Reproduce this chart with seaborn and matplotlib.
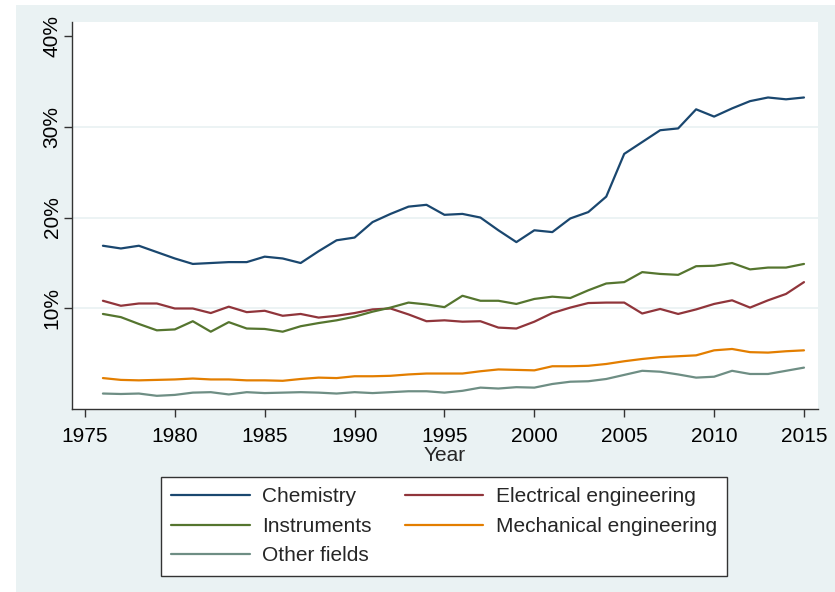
import numpy as np
import pandas as pd
import matplotlib
matplotlib.use("Agg")
import matplotlib.pyplot as plt
import seaborn as sns
from matplotlib.patches import Rectangle
from matplotlib.ticker import FuncFormatter

years = list(range(1976, 2016))

chemistry = [16.9, 16.6, 16.9, 16.2, 15.5, 14.9, 15.0, 15.1, 15.1, 15.7,
             15.5, 15.0, 16.3, 17.5, 17.8, 19.5, 20.4, 21.2, 21.4, 20.3,
             20.4, 20.0, 18.6, 17.3, 18.6, 18.4, 19.9, 20.6, 22.3, 27.0,
             28.3, 29.6, 29.8, 31.9, 31.1, 32.0, 32.8, 33.2, 33.0, 33.2]
electrical = [10.85, 10.3, 10.55, 10.55, 10.0, 10.0, 9.5, 10.2, 9.6, 9.75,
              9.2, 9.4, 9.0, 9.2, 9.5, 9.9, 10.0, 9.35, 8.6, 8.7,
              8.55, 8.6, 7.9, 7.8, 8.55, 9.5, 10.1, 10.6, 10.65, 10.65,
              9.45, 9.95, 9.4, 9.9, 10.5, 10.9, 10.1, 10.9, 11.6, 12.9]
instruments = [9.4, 9.05, 8.3, 7.6, 7.7, 8.6, 7.45, 8.5, 7.8, 7.75,
               7.45, 8.05, 8.4, 8.7, 9.1, 9.65, 10.1, 10.65, 10.45, 10.15,
               11.4, 10.85, 10.85, 10.5, 11.05, 11.3, 11.15, 12.0, 12.75, 12.9,
               14.0, 13.8, 13.7, 14.65, 14.7, 15.0, 14.3, 14.5, 14.5, 14.9]
mechanical = [2.35, 2.15, 2.1, 2.15, 2.2, 2.3, 2.2, 2.2, 2.1, 2.1,
              2.05, 2.25, 2.4, 2.35, 2.55, 2.55, 2.6, 2.75, 2.85, 2.85,
              2.85, 3.1, 3.3, 3.25, 3.2, 3.65, 3.65, 3.7, 3.9, 4.2,
              4.45, 4.65, 4.75, 4.85, 5.4, 5.55, 5.2, 5.15, 5.3, 5.4]
other = [0.65, 0.6, 0.65, 0.4, 0.5, 0.75, 0.8, 0.55, 0.8, 0.7,
         0.75, 0.8, 0.75, 0.65, 0.8, 0.7, 0.8, 0.9, 0.9, 0.75,
         0.95, 1.3, 1.2, 1.35, 1.3, 1.7, 1.95, 2.0, 2.25, 2.7,
         3.15, 3.05, 2.75, 2.4, 2.5, 3.15, 2.8, 2.8, 3.15, 3.5]

fields = ["Chemistry", "Electrical engineering", "Instruments",
          "Mechanical engineering", "Other fields"]
colors = ["#1A476F", "#90353B", "#55752F", "#E37E00", "#6E8E84"]
x_ticks = list(range(1975, 2016, 5))
y_ticks = [10, 20, 30, 40]

series = {"Chemistry": chemistry, "Electrical engineering": electrical,
          "Instruments": instruments, "Mechanical engineering": mechanical,
          "Other fields": other}
df = pd.concat([pd.DataFrame({"Year": years, "share": v, "field": k})
                for k, v in series.items()], ignore_index=True)

sns.set_theme(style="white")
plt.rcParams["font.family"] = ["Liberation Sans", "DejaVu Sans"]

W, H = 835, 592
fig = plt.figure(figsize=(W / 100, H / 100), dpi=100)
fig.patch.set_facecolor("white")
bg = "#EAF2F3"
fig.patches.append(Rectangle((16 / W, 0), 1 - 16 / W, 1 - 5 / H,
                             transform=fig.transFigure, facecolor=bg,
                             edgecolor="none", zorder=-5))

ax = fig.add_axes([72 / W, 1 - 409 / H, (818 - 72) / W, (409 - 22) / H])
ax.set_facecolor("white")
ax.set_zorder(1)

for v in [10, 20, 30]:
    ax.axhline(v, color=bg, lw=1.3, zorder=1)

sns.lineplot(data=df, x="Year", y="share", hue="field", hue_order=fields,
             palette=colors, linewidth=1.6, ax=ax, legend=False, zorder=3)

ax.set_xlim(1974.28, 2015.78)
ax.set_ylim(-1.05, 41.5)
ax.set_xticks(x_ticks)
ax.set_yticks(y_ticks)
ax.yaxis.set_major_formatter(FuncFormatter(lambda v, p: f"{int(v)}%"))
for lab in ax.get_yticklabels():
    lab.set_rotation(90)
    lab.set_va("center")
ax.tick_params(axis="both", labelsize=15, colors="#333333", labelcolor="black",
               length=6, width=1.0, direction="out", left=True, bottom=True)
ax.tick_params(axis="y", pad=1.5)
ax.tick_params(axis="x", pad=7)
ax.set_xlabel("Year", fontsize=15, labelpad=0)
ax.set_ylabel("")

for s in ["top", "right"]:
    ax.spines[s].set_visible(False)
for s in ["left", "bottom"]:
    ax.spines[s].set_color("#333333")
    ax.spines[s].set_linewidth(1.0)

# legend filled row-wise like Stata: reorder to column-major for matplotlib
order = [0, 2, 4, 1, 3]
handles = [plt.Line2D([], [], color=colors[i], lw=1.6) for i in order]
labels = [fields[i] for i in order]
leg = fig.legend(handles, labels, loc="upper left",
                 bbox_to_anchor=(161 / W, 1 - 477 / H), bbox_transform=fig.transFigure,
                 ncol=2, fontsize=15, frameon=True, fancybox=False, framealpha=1,
                 handlelength=3.75, handletextpad=0.6, columnspacing=1.6,
                 labelspacing=0.5, borderpad=0.5, borderaxespad=0)
leg.get_frame().set_edgecolor("#333333")
leg.get_frame().set_linewidth(1.0)
leg.get_frame().set_facecolor("white")
leg.set_zorder(5)

fig.savefig("out.png", dpi=100, facecolor=fig.get_facecolor())
